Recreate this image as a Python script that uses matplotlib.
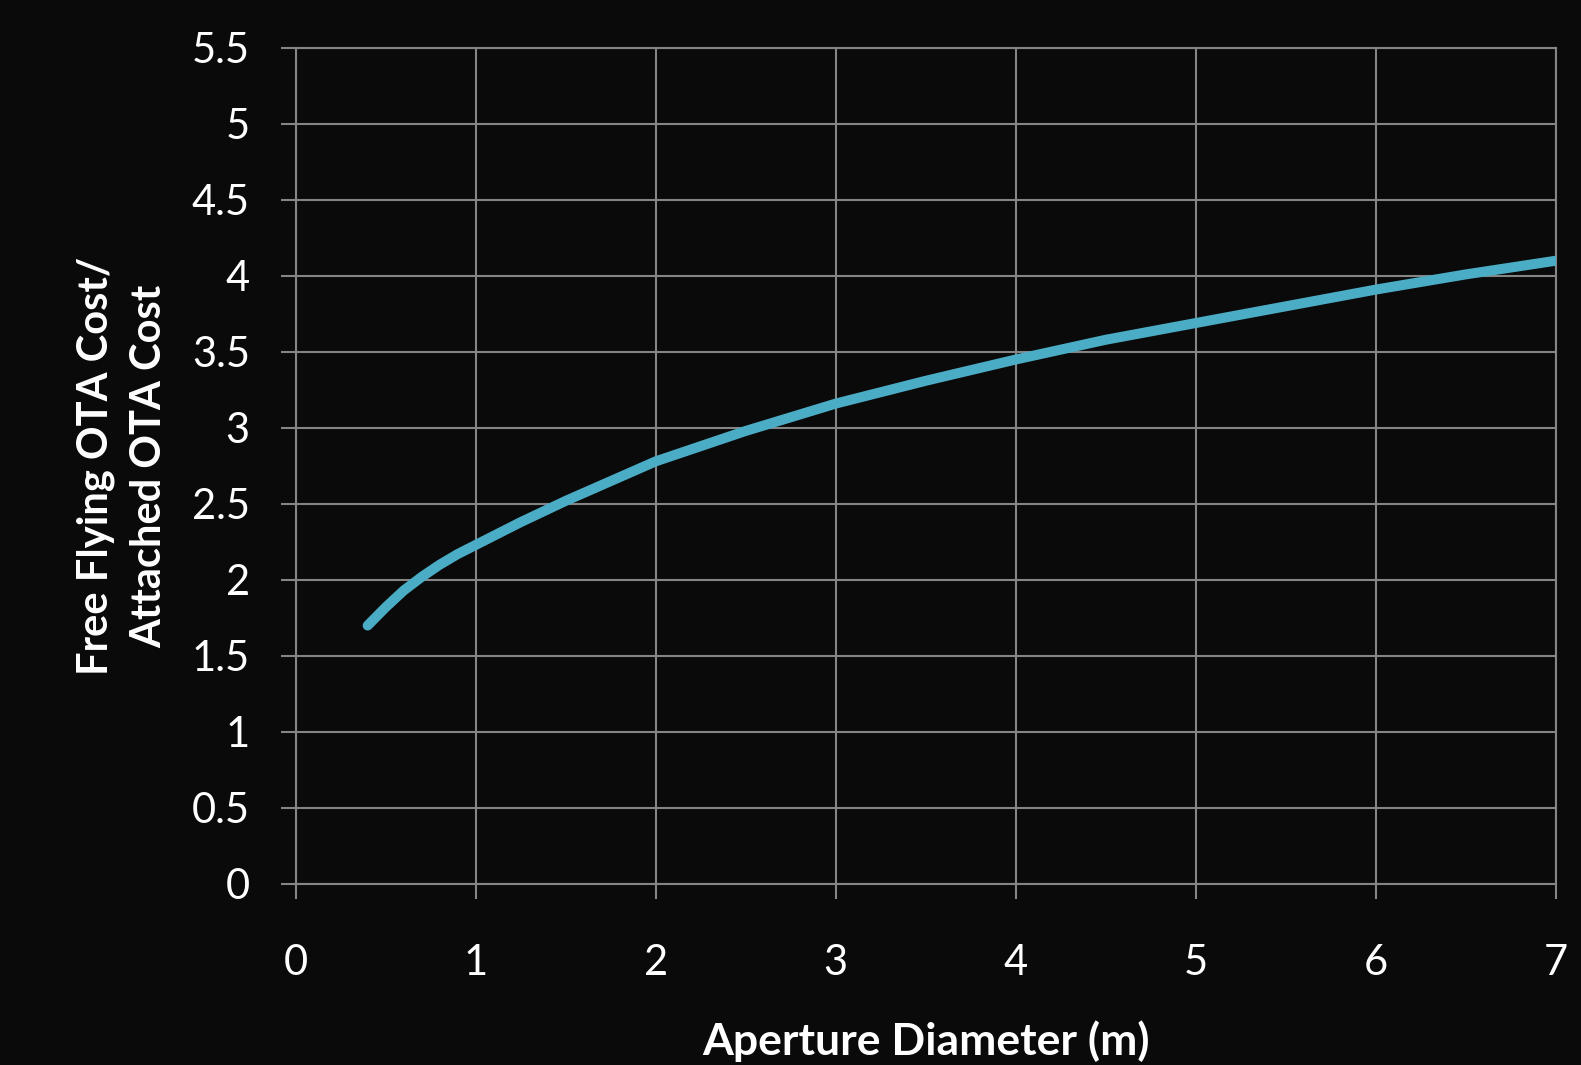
import matplotlib.pyplot as plt

# values
aperture = [0.4, 0.5, 0.6, 0.7, 0.8, 0.9, 1.0, 1.25, 1.5, 1.75, 2.0, 2.5, 3.0, 3.5, 4.0, 4.5, 5.0, 5.5, 6.0, 6.5, 7.0]
cost_ratio = [1.70, 1.82, 1.93, 2.02, 2.10, 2.17, 2.23, 2.38, 2.52, 2.65, 2.78, 2.98, 3.16, 3.31, 3.45, 3.58, 3.69, 3.80, 3.91, 4.01, 4.10]

x_ticks = [0, 1, 2, 3, 4, 5, 6, 7]
y_ticks = [0, 0.5, 1, 1.5, 2, 2.5, 3, 3.5, 4, 4.5, 5, 5.5]
y_tick_labels = ['0', '0.5', '1', '1.5', '2', '2.5', '3', '3.5', '4', '4.5', '5', '5.5']

bg = '#0a0a0a'
grid_col = '#858585'

plt.rcParams['font.family'] = ['Lato', 'DejaVu Sans']

fig = plt.figure(figsize=(15.81, 10.65), dpi=100, facecolor=bg)
ax = fig.add_axes([0.187, 0.170, 0.797, 0.785], facecolor=bg)

ax.plot(aperture, cost_ratio, color='#4BACC6', lw=7.2, solid_capstyle='round',
        solid_joinstyle='round', zorder=3)

ax.set_xlim(0, 7)
ax.set_ylim(0, 5.5)
ax.set_xticks(x_ticks)
ax.set_yticks(y_ticks)
ax.set_yticklabels(y_tick_labels)

ax.grid(True, color=grid_col, lw=1.5)
for s in ax.spines.values():
    s.set_color(grid_col)
    s.set_linewidth(1.5)

ax.tick_params(axis='both', colors=grid_col, labelcolor='white', labelsize=30,
               length=11, width=1.5, direction='out')
ax.tick_params(axis='x', pad=32)
ax.tick_params(axis='y', pad=22)

ax.set_xlabel('Aperture Diameter (m)', color='white', fontsize=32, fontweight='bold', labelpad=28)
ax.set_ylabel('Free Flying OTA Cost/\nAttached OTA Cost', color='white', fontsize=30,
              fontweight='bold', labelpad=17, linespacing=1.5)

fig.savefig('out.png', dpi=100, facecolor=bg)
